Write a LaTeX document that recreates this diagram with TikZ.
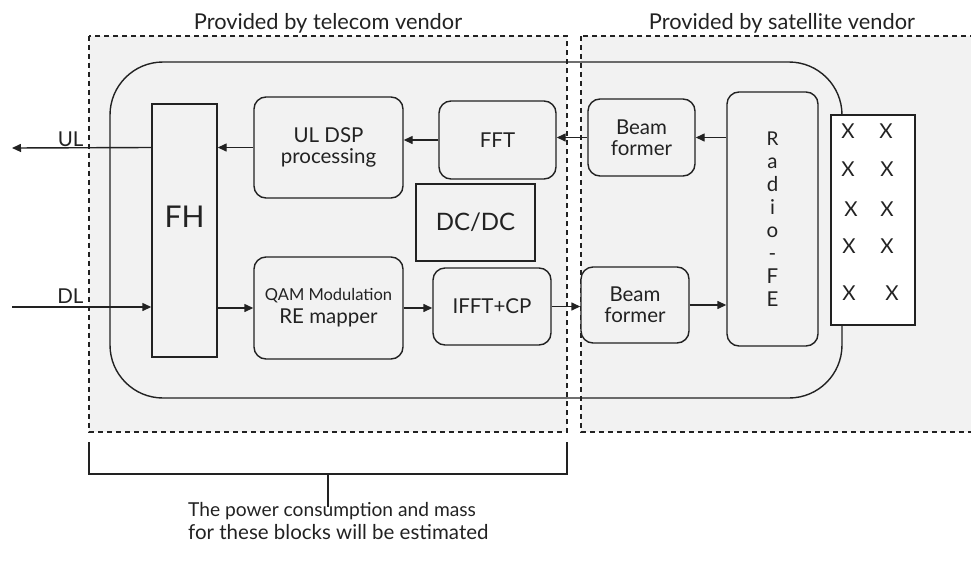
\documentclass[tikz,border=0pt]{standalone}
\usepackage{fontspec}
\setmainfont{Lato}
\usetikzlibrary{arrows.meta}
\definecolor{panel}{HTML}{F2F2F2}
\definecolor{ink}{HTML}{222222}
\begin{document}
\begin{tikzpicture}[x=1pt,y=-1pt,
  font=\fontsize{20.5}{23}\selectfont,
  every node/.style={text=ink},
  vendor/.style={draw=ink, line width=1.3pt, dash pattern=on 5pt off 4pt, fill=panel},
  rbox/.style={draw=ink, line width=1.4pt, rounded corners=12pt, fill=panel,
    inner sep=0pt, align=center},
  sbox/.style={draw=ink, line width=1.4pt, fill=panel, inner sep=0pt, align=center},
  flow/.style={draw=ink, line width=1.4pt, -{Triangle[length=9pt,width=8pt]}},
  plain/.style={draw=ink, line width=1.4pt},
]
\useasboundingbox (0,0) rectangle (971,565);
\clip (0,0) rectangle (971,565);

% vendor regions
\path[vendor] (89,36) rectangle (567,432);
\path[vendor] (581,36) rectangle (985,432);
\node[anchor=base] (tlabel) at (328,29) {\fontsize{21.8}{24}\selectfont Provided by telecom vendor};
\node[anchor=base] (slabel) at (782,29) {\fontsize{21.8}{24}\selectfont Provided by satellite vendor};

% payload outline
\draw[plain, rounded corners=53pt] (110,62) rectangle (842,398);

% processing blocks
\node[sbox, minimum width=65pt, minimum height=253pt] (FH) at (184.5,230.5) {};
\node (FHtext) at (184.5,217) {\fontsize{30}{32}\selectfont FH};
\node[rbox, minimum width=149pt, minimum height=101pt] (ULDSP) at (328.5,147.5)
  {UL DSP\\[-2pt]processing};
\node[rbox, minimum width=117pt, minimum height=78pt] (FFT) at (497.5,140) {FFT};
\node[sbox, minimum width=119pt, minimum height=77pt] (DCDC) at (475.5,222.5)
  {\fontsize{24}{26}\selectfont DC/DC};
\node[rbox, minimum width=149pt, minimum height=102pt] (QAM) at (328.5,308)
  {\fontsize{16.5}{37}\selectfont QAM Modulation\\RE mapper};
\node[rbox, minimum width=118pt, minimum height=77pt] (IFFT) at (492,306.5) {IFFT+CP};
\node[rbox, minimum width=107pt, minimum height=77pt] (BF1) at (641.5,137.5)
  {Beam\\[-2pt]former};
\node[rbox, minimum width=108pt, minimum height=76pt] (BF2) at (635,305)
  {Beam\\[-2pt]former};
\node[rbox, minimum width=91pt, minimum height=254pt] (RFE) at (772.5,219)
  {\fontsize{19}{24.3}\selectfont R\\a\\d\\i\\o\\-\\F\\E};

% antenna array
\node[sbox, fill=white, minimum width=84pt, minimum height=210pt] (ANT) at (873,220) {};
\foreach \i/\xa/\xb/\yy in {1/848/886/131, 2/848/887/169, 3/851/887/209, 4/849/887/246, 5/849/892/293}{
  \node (Xa\i) at (\xa,\yy) {X};
  \node (Xb\i) at (\xb,\yy) {X};
}

% uplink chain
\coordinate (ULend) at (12,148);
\coordinate (DLstart) at (12,307);
\draw[flow] (RFE.west |- BF1.east) -- (BF1.east);
\draw[flow] (BF1.west) -- (BF1.west -| FFT.east);
\draw[flow] (FFT.west) -- (FFT.west -| ULDSP.east);
\draw[flow] (ULDSP.west) -- (ULDSP.west -| FH.east);
\draw[flow] (FH.west |- ULDSP.west) -- (ULend);
\node[anchor=base east] (ULlabel) at (87,146) {UL};

% downlink chain
\draw[flow] (DLstart) -- (DLstart -| FH.west);
\node[anchor=base east] (DLlabel) at (87,303) {DL};
\draw[flow] (FH.east |- QAM.west) -- (QAM.west);
\draw[flow] (QAM.east) -- (QAM.east -| IFFT.west);
\draw[flow] (IFFT.east) -- (IFFT.east -| BF2.west);
\draw[flow] (BF2.east) -- (BF2.east -| RFE.west);

% estimation bracket
\coordinate (brL) at (89,442);
\coordinate (brR) at (567,442);
\coordinate (brM) at (328,474);
\coordinate (brS) at (328,507);
\draw[plain] (brL) |- (brR |- brM) -- (brR);
\draw[plain] (brM) -- (brS);
\node[anchor=base west, align=left, inner sep=0pt] (note) at (188,539)
  {\fontsize{19.2}{22}\selectfont The power consumption and mass\\for these blocks will be estimated};
\end{tikzpicture}
\end{document}
